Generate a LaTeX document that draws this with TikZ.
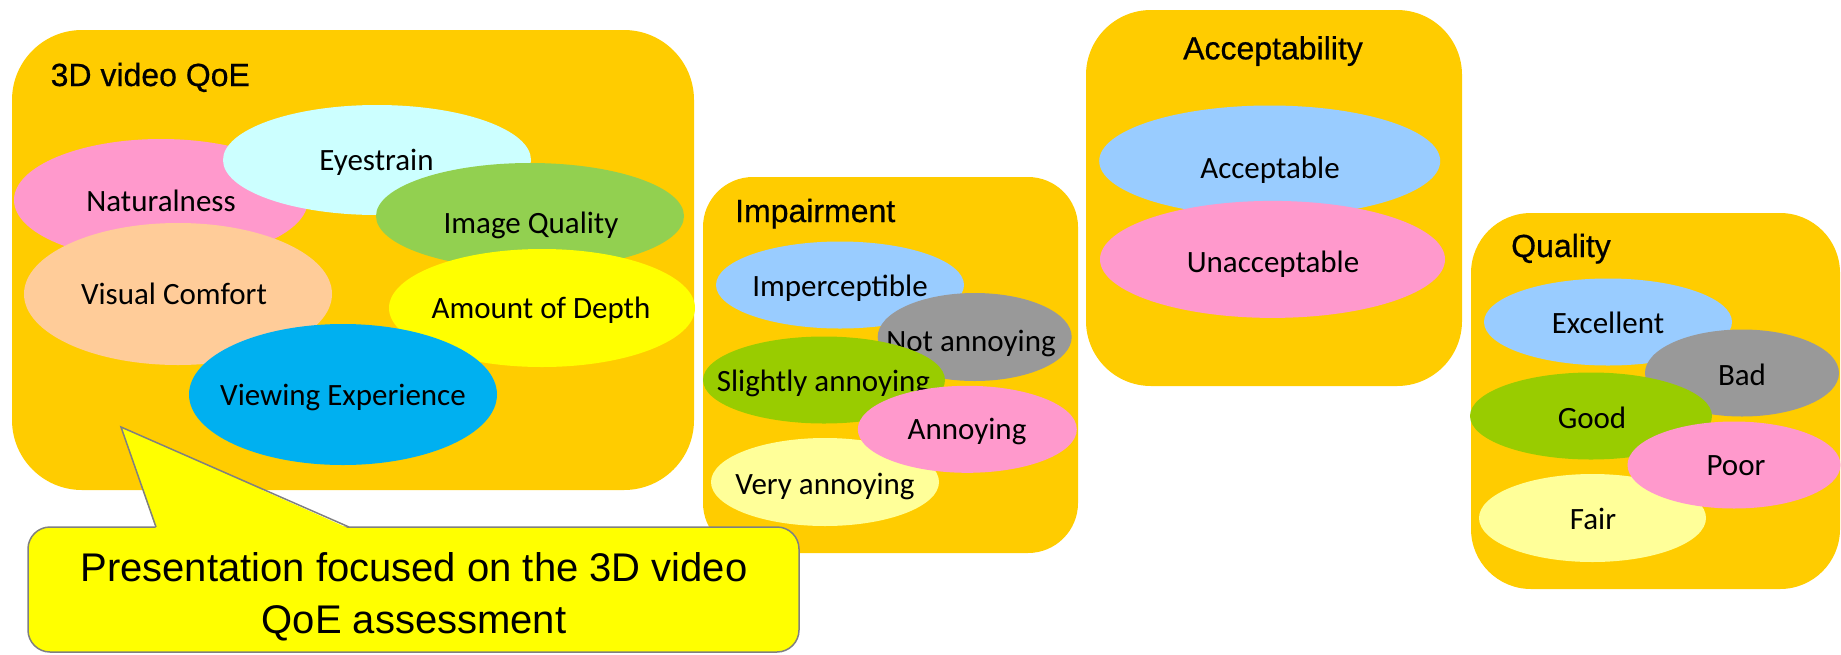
\documentclass[tikz,border=0pt]{standalone}
\usepackage{fontspec}
\setmainfont{Liberation Sans}
\newfontfamily\carl{Carlito}
\newfontfamily\ttlfont{Liberation Sans}[FakeBold=0.6]
\usetikzlibrary{shapes.geometric,calc}
\definecolor{panelc}{HTML}{FFCC00}
\definecolor{cpink}{HTML}{FF99CC}
\definecolor{ccyan}{HTML}{CCFFFF}
\definecolor{cgreenA}{HTML}{92D050}
\definecolor{cpeach}{HTML}{FFCC99}
\definecolor{cyel}{HTML}{FFFF00}
\definecolor{cblue}{HTML}{00B0F0}
\definecolor{clblue}{HTML}{99CCFF}
\definecolor{cgrey}{HTML}{999999}
\definecolor{cgreenB}{HTML}{99CC00}
\definecolor{clyel}{HTML}{FFFF99}
\definecolor{cborder}{HTML}{808080}
\begin{document}
\begin{tikzpicture}[x=1pt,y=-1pt,
  panelbox/.style={rectangle, fill=panelc, inner sep=0pt, outer sep=0pt},
  bub/.style={ellipse, inner sep=0pt, outer sep=0pt},
  lbl/.style={inner sep=0pt, anchor=base, font=\carl\fontsize{31}{31}\selectfont},
  ttl/.style={inner sep=0pt, anchor=base, font=\ttlfont\fontsize{32}{32}\selectfont},
  ctext/.style={inner sep=0pt, anchor=base, font=\fontsize{40}{40}\selectfont},
]
\useasboundingbox (0,0) rectangle (1841,654);

% ---------- 3D video QoE ----------
\node[panelbox, rounded corners=70pt, minimum width=682pt, minimum height=460pt] (qoe) at (353,260) {};
\node[ttl, anchor=base west] (qoet) at (50.5,86) {3D video QoE};
\node[bub, fill=cpink, minimum width=294pt, minimum height=122pt] (nat) at (161,200) {};
\node[lbl] (natt) at (161,211.7) {Naturalness};
\node[bub, fill=ccyan, minimum width=308pt, minimum height=110pt] (eye) at (377,160) {};
\node[lbl] (eyet) at (376.5,170.7) {Eyestrain};
\node[bub, fill=cgreenA, minimum width=308pt, minimum height=106pt] (img) at (530,216) {};
\node[lbl] (imgt) at (531,233) {Image Quality};
\node[bub, fill=cpeach, minimum width=308pt, minimum height=142pt] (vis) at (178,294) {};
\node[lbl] (vist) at (174,304) {Visual Comfort};
\node[bub, fill=cyel, minimum width=306pt, minimum height=118pt] (dep) at (542,308) {};
\node[lbl] (dept) at (541,318.3) {Amount of Depth};
\node[bub, fill=cblue, minimum width=308pt, minimum height=141pt] (vie) at (343,394.5) {};
\node[lbl] (viet) at (343,405) {Viewing Experience};

% ---------- Impairment ----------
\node[panelbox, rounded corners=50pt, minimum width=375pt, minimum height=376pt] (imp) at (890.5,365) {};
\node[ttl, anchor=base west] (impt) at (735,222) {Impairment};
\node[bub, fill=clblue, minimum width=248pt, minimum height=87pt] (i1) at (840,285) {};
\node[lbl] (i1t) at (840,296.7) {Imperceptible};
\node[bub, fill=cgrey, minimum width=194pt, minimum height=88pt] (i2) at (974.7,337) {};
\node[lbl] (i2t) at (971,351.7) {Not annoying};
\node[bub, fill=cgreenB, minimum width=242pt, minimum height=87pt] (i3) at (824,380) {};
\node[lbl] (i3t) at (823.5,391.7) {Slightly annoying};
\node[bub, fill=clyel, minimum width=228pt, minimum height=88pt] (i5) at (825,482) {};
\node[lbl] (i5t) at (825,494) {Very annoying};
\node[bub, fill=cpink, minimum width=219pt, minimum height=87pt] (i4) at (967.3,429.3) {};
\node[lbl] (i4t) at (967,439.3) {Annoying};

% ---------- Acceptability ----------
\node[panelbox, rounded corners=65pt, minimum width=376pt, minimum height=376pt] (acc) at (1274,198) {};
\node[ttl] (acct) at (1273,59.3) {Acceptability};
\node[bub, fill=clblue, minimum width=341pt, minimum height=111pt] (a1) at (1269.7,161) {};
\node[lbl] (a1t) at (1270,178.5) {Acceptable};
\node[bub, fill=cpink, minimum width=345pt, minimum height=117pt] (a2) at (1272.5,259.4) {};
\node[lbl] (a2t) at (1273,272.5) {Unacceptable};

% ---------- Quality ----------
\node[panelbox, rounded corners=60pt, minimum width=369pt, minimum height=376pt] (qua) at (1655.5,401) {};
\node[ttl, anchor=base west] (quat) at (1511,257) {Quality};
\node[bub, fill=clblue, minimum width=248pt, minimum height=87pt] (q1) at (1608,322) {};
\node[lbl] (q1t) at (1608,333.8) {Excellent};
\node[bub, fill=cgrey, minimum width=194pt, minimum height=87pt] (q2) at (1742,373) {};
\node[lbl] (q2t) at (1742,385) {Bad};
\node[bub, fill=cgreenB, minimum width=242pt, minimum height=87pt] (q3) at (1591,416) {};
\node[lbl] (q3t) at (1592,428.6) {Good};
\node[bub, fill=clyel, minimum width=227pt, minimum height=88pt] (q5) at (1592.5,518) {};
\node[lbl] (q5t) at (1593,529) {Fair};
\node[bub, fill=cpink, minimum width=213pt, minimum height=87pt] (q4) at (1734,465) {};
\node[lbl] (q4t) at (1736,475.5) {Poor};

% ---------- Callout ----------
\node[rectangle, fill=cyel, draw=cborder, line width=1.5pt, rounded corners=22pt,
      inner sep=0pt, outer sep=0pt, minimum width=771pt, minimum height=125pt] (call) at (413.5,589.5) {};
\coordinate (tip) at (121,427);
\fill[cyel] ($(call.north west)+(128,1.6)$) -- (tip) -- ($(call.north west)+(321,1.6)$) -- cycle;
\draw[cborder, line width=1.5pt, line join=miter] ($(call.north west)+(128,0)$) -- (tip) -- ($(call.north west)+(321,0)$);
\node[ctext] (c1) at (414,581.7) {Presentation focused on the 3D video};
\node[ctext] (c2) at (414,633) {QoE assessment};
\end{tikzpicture}
\end{document}
